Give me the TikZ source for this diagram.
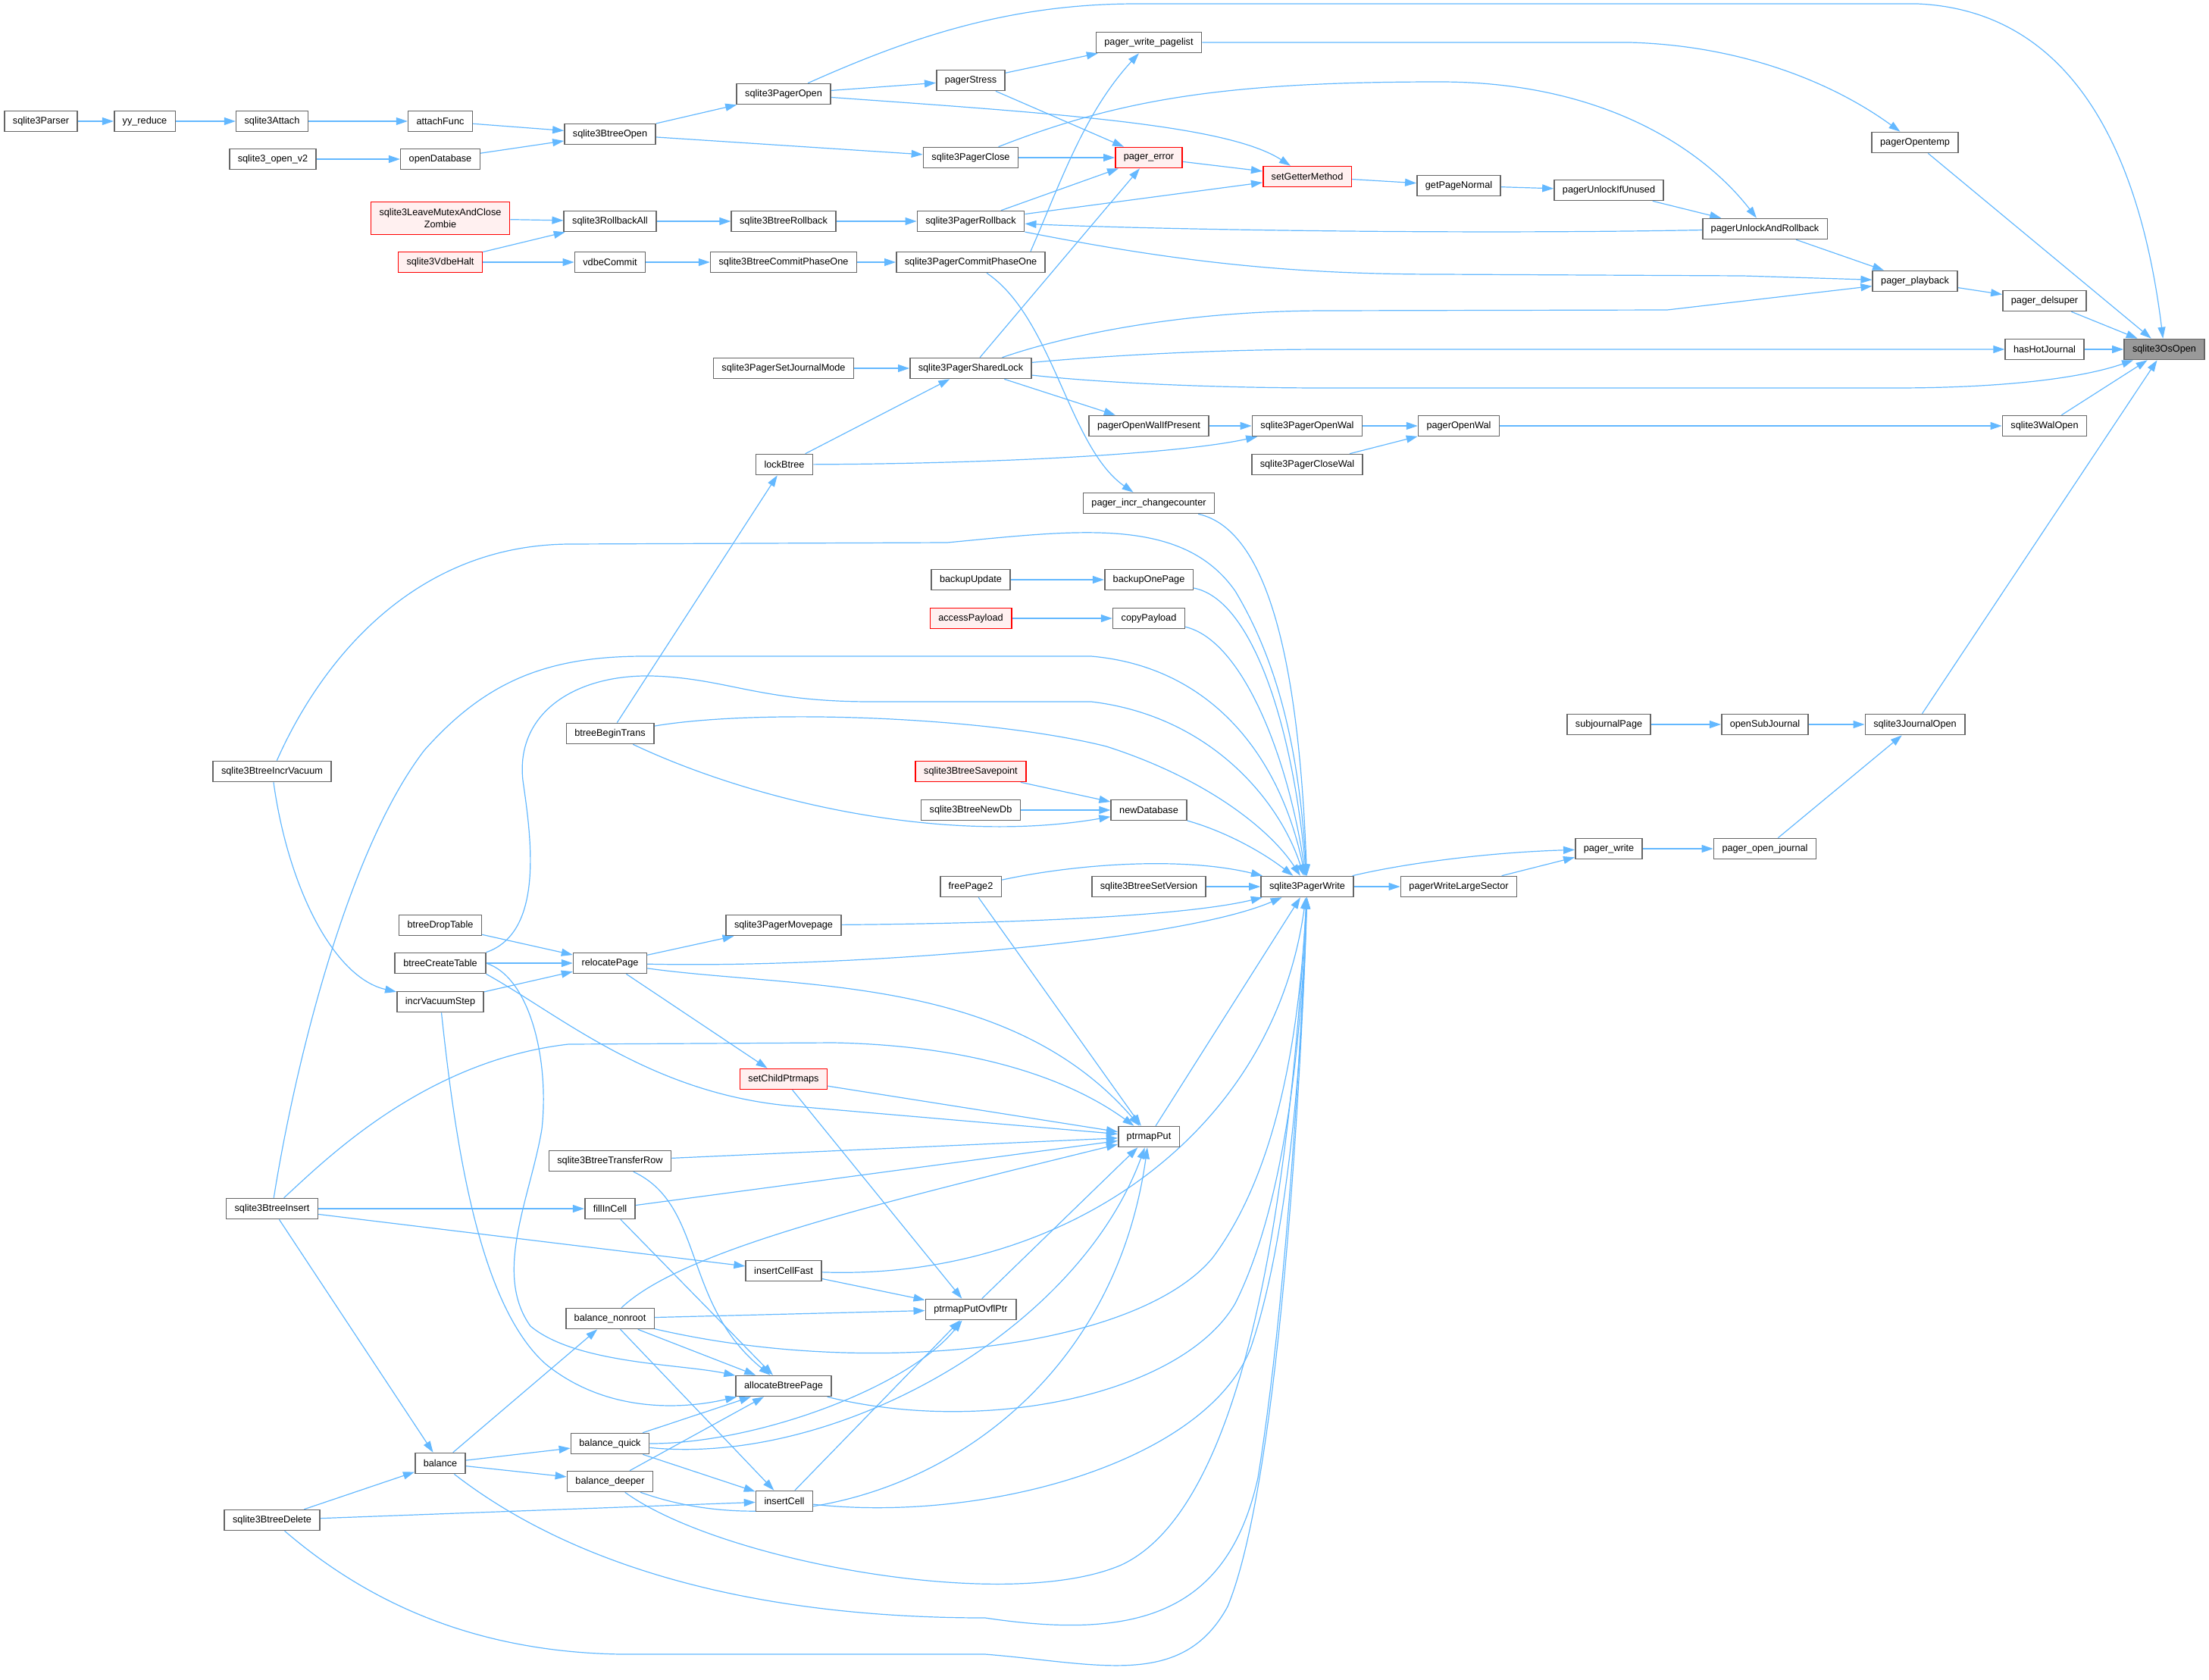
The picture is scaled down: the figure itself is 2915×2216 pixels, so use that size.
\documentclass[tikz,border=0pt]{standalone}
\usepackage{fontspec}
\setmainfont{Liberation Sans}
\usetikzlibrary{arrows.meta,backgrounds}

\definecolor{edgeblue}{HTML}{63B8FF}
\definecolor{boxgray}{HTML}{666666}
\definecolor{redfill}{HTML}{FFF0F0}
\definecolor{rootgray}{HTML}{999999}

\begin{document}
\begin{tikzpicture}[x=0.5pt,y=-0.5pt,>={Triangle[length=7.5pt,width=5pt]},
	fn/.style={draw=boxgray,fill=white,line width=0.8pt,inner xsep=5.5pt,inner ysep=1pt,minimum height=13.5pt},
	fnred/.style={fn,draw=red,fill=redfill},
	fnroot/.style={fn,fill=rootgray},
	calls/.style={->,draw=edgeblue,line width=0.6pt}]
			% Text size for every box
			\tikzstyle{every node}=[font=\fontsize{6.35pt}{7.8pt}\selectfont]
			\useasboundingbox (0,0) rectangle (2915,2216);

			% plain function boxes
			% nm: node name, x/y: centre in pixels, txt: function name
			\foreach \nm/\x/\y/\txt in
			{
				parser/54/160/sqlite3Parser,
				yyReduce/191/160/yy\_reduce,
				attach/359/160/sqlite3Attach,
				openV2/360/210/sqlite3\_open\_v2,
				incrVacuum/359/1018/sqlite3BtreeIncrVacuum,
				btInsert/359/1595/sqlite3BtreeInsert,
				btDelete/359/2006/sqlite3BtreeDelete,
				attachFunc/581/160/attachFunc,
				openDb/581/210/openDatabase,
				dropTable/581/1221/btreeDropTable,
				createTable/581/1271/btreeCreateTable,
				incrStep/581/1322/incrVacuumStep,
				balance/581/1931/balance,
				btOpen/805/177/sqlite3BtreeOpen,
				rollbackAll/805/292/sqlite3RollbackAll,
				vdbeCommit/805/346/vdbeCommit,
				beginTrans/805/968/btreeBeginTrans,
				relocate/805/1271/relocatePage,
				transferRow/805/1532/sqlite3BtreeTransferRow,
				fillInCell/805/1595/fillInCell,
				nonroot/805/1740/balance\_nonroot,
				quick/805/1905/balance\_quick,
				deeper/805/1955/balance\_deeper,
				pOpen/1034/124/sqlite3PagerOpen,
				btRollback/1034/292/sqlite3BtreeRollback,
				btCommit/1034/346/sqlite3BtreeCommitPhaseOne,
				journalMode/1034/486/sqlite3PagerSetJournalMode,
				lockBtree/1035/613/lockBtree,
				movePage/1034/1221/sqlite3PagerMovepage,
				cellFast/1034/1677/insertCellFast,
				allocPage/1034/1829/allocateBtreePage,
				insertCell/1035/1981/insertCell,
				pStress/1281/106/pagerStress,
				pClose/1281/208/sqlite3PagerClose,
				pRollback/1281/292/sqlite3PagerRollback,
				pCommit/1281/346/sqlite3PagerCommitPhaseOne,
				sharedLock/1281/486/sqlite3PagerSharedLock,
				backupUpdate/1281/765/backupUpdate,
				newDbCall/1281/1069/sqlite3BtreeNewDb,
				freePage/1281/1170/freePage2,
				ovflPtr/1281/1728/ptrmapPutOvflPtr,
				writePagelist/1516/56/pager\_write\_pagelist,
				walIfPresent/1516/562/pagerOpenWalIfPresent,
				incrChange/1516/664/pager\_incr\_changecounter,
				backupOne/1516/765/backupOnePage,
				copyPayload/1516/816/copyPayload,
				newDb/1516/1069/newDatabase,
				setVersion/1516/1170/sqlite3BtreeSetVersion,
				ptrmapPut/1516/1500/ptrmapPut,
				pOpenWal/1725/562/sqlite3PagerOpenWal,
				pCloseWal/1725/613/sqlite3PagerCloseWal,
				pWrite/1725/1170/sqlite3PagerWrite,
				getPage/1925/245/getPageNormal,
				openWal/1925/562/pagerOpenWal,
				largeSector/1925/1170/pagerWriteLargeSector,
				unlockUnused/2123/251/pagerUnlockIfUnused,
				subjournal/2123/956/subjournalPage,
				pagerWrite/2123/1120/pager\_write,
				unlockRb/2329/302/pagerUnlockAndRollback,
				openSub/2329/956/openSubJournal,
				openJournal/2329/1120/pager\_open\_journal,
				opentemp/2527/188/pagerOpentemp,
				playback/2527/371/pager\_playback,
				journalOpen/2527/956/sqlite3JournalOpen,
				delsuper/2698/397/pager\_delsuper,
				hasHot/2698/461/hasHotJournal,
				walOpen/2698/562/sqlite3WalOpen} {
				\node[fn] (\nm) at (\x,\y) {\txt};
			}
			% boxes with a red frame
			\foreach \nm/\x/\y/\txt in
			{
				vdbeHalt/581/346/sqlite3VdbeHalt,
				setChild/1034/1424/setChildPtrmaps,
				accessPayload/1281/816/accessPayload,
				savepoint/1281/1018/sqlite3BtreeSavepoint,
				pagerError/1516/208/pager\_error,
				setGetter/1725/233/setGetterMethod} {
				\node[fnred] (\nm) at (\x,\y) {\txt};
			}
			\node[fnred,align=center,minimum height=21.5pt] (zombie) at (581,288) {sqlite3LeaveMutexAndClose\\Zombie};
			% the function the graph is about
			\node[fnroot] (osOpen) at (2856,461) {sqlite3OsOpen};

			\begin{scope}[on background layer]
			% Short calls, drawn straight from caller to callee
			\foreach \a/\b in
			{
				parser/yyReduce, yyReduce/attach, attach/attachFunc, attachFunc/btOpen,
				openV2/openDb, openDb/btOpen, zombie/rollbackAll, vdbeHalt/rollbackAll,
				vdbeHalt/vdbeCommit, btOpen/pOpen, btOpen/pClose, rollbackAll/btRollback,
				btRollback/pRollback, vdbeCommit/btCommit, btCommit/pCommit, pOpen/pStress,
				pStress/writePagelist, pStress/pagerError, pClose/pagerError, pRollback/pagerError,
				pRollback/setGetter, sharedLock/pagerError, sharedLock/walIfPresent,
				journalMode/sharedLock, lockBtree/sharedLock, beginTrans/lockBtree,
				pagerError/setGetter, setGetter/getPage, getPage/unlockUnused,
				unlockUnused/unlockRb, unlockRb/playback, opentemp/osOpen, playback/delsuper,
				delsuper/osOpen, hasHot/osOpen, walOpen/osOpen, journalOpen/osOpen,
				walIfPresent/pOpenWal, pOpenWal/openWal, pCloseWal/openWal, openWal/walOpen,
				subjournal/openSub, openSub/journalOpen, openJournal/journalOpen,
				pagerWrite/openJournal, pWrite/largeSector, largeSector/pagerWrite,
				backupUpdate/backupOne, accessPayload/copyPayload, savepoint/newDb,
				newDbCall/newDb, freePage/ptrmapPut, setVersion/pWrite, relocate/movePage,
				relocate/setChild, setChild/ptrmapPut, setChild/ovflPtr, dropTable/relocate,
				createTable/relocate, incrStep/relocate, ptrmapPut/pWrite, ovflPtr/ptrmapPut,
				transferRow/ptrmapPut, fillInCell/ptrmapPut, btInsert/fillInCell,
				btInsert/cellFast, btInsert/balance, btDelete/balance, btDelete/insertCell,
				balance/nonroot, balance/quick, balance/deeper, nonroot/ovflPtr,
				nonroot/allocPage, nonroot/insertCell, quick/allocPage, quick/insertCell,
				deeper/allocPage, cellFast/ovflPtr, insertCell/ovflPtr, fillInCell/allocPage} {
				\draw[calls] (\a) -- (\b);
			}

			% Long calls in the pager, upper half
			\draw[calls] (pOpen) .. controls (1200,50) and (1330,5) .. (1500,5) -- (2530,5) .. controls (2760,15) and (2830,250) .. (osOpen);
			\draw[calls] (pOpen) .. controls (1400,150) and (1620,165) .. (setGetter);
			\draw[calls] (pClose) .. controls (1480,130) and (1620,108) .. (1900,108) .. controls (2120,108) and (2250,200) .. (unlockRb);
			\draw[calls] (unlockRb) .. controls (1900,310) and (1500,302) .. (pRollback);
			\draw[calls] (pRollback) .. controls (1550,345) and (1700,362) .. (1900,362) -- (2300,364) -- (playback);
			\draw[calls] ([xshift=-10pt]pCommit.north east) .. controls (1400,240) and (1430,150) .. (writePagelist);
			\draw[calls] (pCommit) .. controls (1390,420) and (1410,590) .. (incrChange);
			\draw[calls] (sharedLock) .. controls (1400,445) and (1550,410) .. (1750,410) -- (2200,409) -- (playback);
			\draw[calls] (sharedLock) .. controls (1450,470) and (1600,461) .. (1750,461) -- (hasHot);
			\draw[calls] (sharedLock) .. controls (1450,505) and (1600,512) .. (1750,512) -- (2500,512) .. controls (2650,512) and (2750,498) .. (osOpen);
			\draw[calls] (lockBtree) .. controls (1300,612) and (1550,600) .. (pOpenWal);
			\draw[calls] (writePagelist) -- (2150,56) .. controls (2300,60) and (2420,110) .. (opentemp);
			\draw[calls] (pWrite) .. controls (1850,1140) and (1960,1125) .. (pagerWrite);

			% Calls into sqlite3PagerWrite from above and from the left
			\draw[calls] (incrChange) .. controls (1680,700) and (1715,900) .. (pWrite);
			\draw[calls] (backupOne) .. controls (1650,790) and (1705,950) .. (pWrite);
			\draw[calls] (copyPayload) .. controls (1640,845) and (1700,1000) .. (pWrite);
			\draw[calls] (incrVacuum) .. controls (420,880) and (540,720) .. (750,718) -- (1250,716) .. controls (1420,700) and (1560,680) .. (1630,780) .. controls (1690,880) and (1715,1000) .. (pWrite);
			\draw[calls] (btInsert) .. controls (390,1400) and (460,1120) .. (560,990) .. controls (640,900) and (720,866) .. (850,866) -- (1440,866) .. controls (1600,880) and (1690,1000) .. (pWrite);
			\draw[calls] (createTable.north east) .. controls (720,1230) and (700,1100) .. (690,1030) .. controls (680,940) and (760,890) .. (860,892) .. controls (960,895) and (1000,926) .. (1150,926) -- (1440,926) .. controls (1600,945) and (1690,1060) .. (pWrite);
			\draw[calls] (beginTrans) .. controls (1000,935) and (1300,945) .. (1460,985) .. controls (1600,1030) and (1680,1100) .. (pWrite);
			\draw[calls] (beginTrans) .. controls (1000,1060) and (1250,1115) .. (newDb);
			\draw[calls] (newDb) .. controls (1610,1095) and (1660,1120) .. (pWrite);
			\draw[calls] (freePage) .. controls (1420,1140) and (1560,1130) .. (pWrite);
			\draw[calls] (movePage) .. controls (1400,1218) and (1580,1205) .. (pWrite);
			\draw[calls] (relocate) .. controls (1100,1278) and (1550,1245) .. (pWrite);

			% Calls into sqlite3PagerWrite from below
			\draw[calls] (cellFast) .. controls (1400,1690) and (1680,1500) .. (pWrite);
			\draw[calls] (nonroot) .. controls (1150,1820) and (1500,1780) .. (1600,1660) .. controls (1690,1540) and (1715,1350) .. (pWrite);
			\draw[calls] (allocPage) .. controls (1300,1895) and (1560,1840) .. (1630,1720) .. controls (1700,1580) and (1718,1350) .. (pWrite);
			\draw[calls] (insertCell) .. controls (1300,2010) and (1590,1930) .. (1650,1780) .. controls (1705,1620) and (1720,1350) .. (pWrite);
			\draw[calls] (deeper) .. controls (950,2060) and (1330,2130) .. (1480,2065) .. controls (1640,1990) and (1700,1600) .. (pWrite);
			\draw[calls] (balance) .. controls (760,2070) and (1000,2135) .. (1300,2135) .. controls (1500,2165) and (1620,2130) .. (1660,1950) .. controls (1700,1700) and (1718,1350) .. (pWrite);
			\draw[calls] (btDelete) .. controls (480,2110) and (620,2180) .. (820,2183) -- (1300,2183) .. controls (1450,2195) and (1560,2230) .. (1620,2120) .. controls (1690,1950) and (1718,1400) .. (pWrite);

			% Calls into ptrmapPut and the btree helpers
			\draw[calls] (relocate) .. controls (1050,1305) and (1330,1285) .. (ptrmapPut);
			\draw[calls] (createTable.south east) .. controls (740,1340) and (860,1445) .. (1050,1460) -- (ptrmapPut);
			\draw[calls] (btInsert) .. controls (430,1530) and (560,1400) .. (750,1378) -- (1100,1376) .. controls (1300,1380) and (1420,1430) .. (ptrmapPut);
			\draw[calls] (nonroot) .. controls (900,1650) and (1150,1590) .. (ptrmapPut);
			\draw[calls] (quick) .. controls (1100,1935) and (1420,1760) .. (ptrmapPut);
			\draw[calls] (deeper) .. controls (1100,2060) and (1460,1900) .. (ptrmapPut);
			\draw[calls] (quick) .. controls (1000,1905) and (1200,1830) .. (ovflPtr);
			\draw[calls] (incrVacuum) .. controls (380,1170) and (440,1290) .. (incrStep);
			\draw[calls] (createTable.east) .. controls (700,1290) and (725,1400) .. (715,1490) .. controls (700,1580) and (650,1680) .. (700,1750) .. controls (760,1800) and (900,1800) .. (allocPage);
			\draw[calls] (incrStep) .. controls (600,1500) and (630,1720) .. (720,1800) .. controls (800,1865) and (900,1860) .. (allocPage);
			\draw[calls] (transferRow) .. controls (930,1590) and (900,1720) .. (allocPage);
			\end{scope}
		\end{tikzpicture}
\end{document}
